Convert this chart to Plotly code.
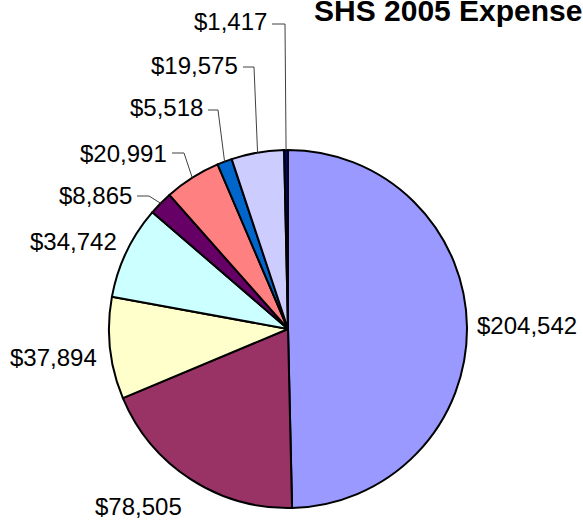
import math
import plotly.graph_objects as go

# ---- data ----
labels = ["Item 1", "Item 2", "Item 3", "Item 4", "Item 5", "Item 6", "Item 7", "Item 8", "Item 9"]
values = [204542, 78505, 37894, 34742, 8865, 20991, 5518, 19575, 1417]
value_text = ["$204,542", "$78,505", "$37,894", "$34,742", "$8,865", "$20,991", "$5,518", "$19,575", "$1,417"]
colors = ["#9999FF", "#993366", "#FFFFCC", "#CCFFFF", "#660066", "#FF8080", "#0066CC", "#CCCCFF", "#000080"]
title_text = "SHS 2005 Expenses"

# ---- layout ----
W, H = 583, 523
CX, CY, R = 288, 329, 179  # pie centre / radius in pixels
FONT = "Arial, Liberation Sans, sans-serif"

def px(x):
    return x / W

def py(y):
    return 1 - y / H

fig = go.Figure(go.Pie(
    labels=labels,
    values=values,
    sort=False,
    direction="clockwise",
    rotation=0,
    textinfo="none",
    hoverinfo="label+value",
    marker=dict(colors=colors, line=dict(color="black", width=2)),
    domain=dict(x=[px(CX - R), px(CX + R)], y=[py(CY + R), py(CY - R)]),
    showlegend=False,
))

# label placements: (anchor x, centre y, xanchor, leader y, elbow x or None)
placements = [
    (476, 325, "left", None, None),
    (94, 506, "left", None, None),
    (98, 357, "right", None, None),
    (118, 241, "right", None, None),
    (133, 195, "right", 196, 149),
    (168, 153, "right", 153, 184),
    (204, 108, "right", 110, 218),
    (239, 65, "right", 67, 254),
    (268, 22, "right", 24, 285),
]

total = sum(values)
cum = 0.0
annotations = []
shapes = []
for v, txt, (lx, ly, xa, leader_y, elbow) in zip(values, value_text, placements):
    mid = (cum + v / 2) / total * 2 * math.pi
    cum += v
    ex = CX + R * math.sin(mid)
    ey = CY - R * math.cos(mid)
    annotations.append(dict(
        x=px(lx), y=py(ly), xref="paper", yref="paper",
        text=txt, showarrow=False, xanchor=xa, yanchor="middle",
        borderpad=0,
        font=dict(family=FONT, size=24, color="black"),
    ))
    if elbow is not None:
        sx = lx + 4
        shapes.append(dict(type="path", xref="paper", yref="paper",
                           path=f"M {px(sx)} {py(leader_y)} L {px(elbow)} {py(leader_y)} L {px(ex)} {py(ey)}",
                           line=dict(color="#404040", width=1)))

annotations.append(dict(
    x=px(313), y=py(10), xref="paper", yref="paper",
    text=f"<b>{title_text}</b>", showarrow=False, xanchor="left", yanchor="middle",
    borderpad=0,
    font=dict(family=FONT, size=30, color="black"),
))

fig.update_layout(
    width=W, height=H,
    margin=dict(l=0, r=0, t=0, b=0),
    paper_bgcolor="white",
    plot_bgcolor="white",
    annotations=annotations,
    shapes=shapes,
)

fig.write_html(
    "out.html",
    config={"displayModeBar": False},
    post_script="document.body.style.margin='0';document.body.style.overflow='hidden';",
)
